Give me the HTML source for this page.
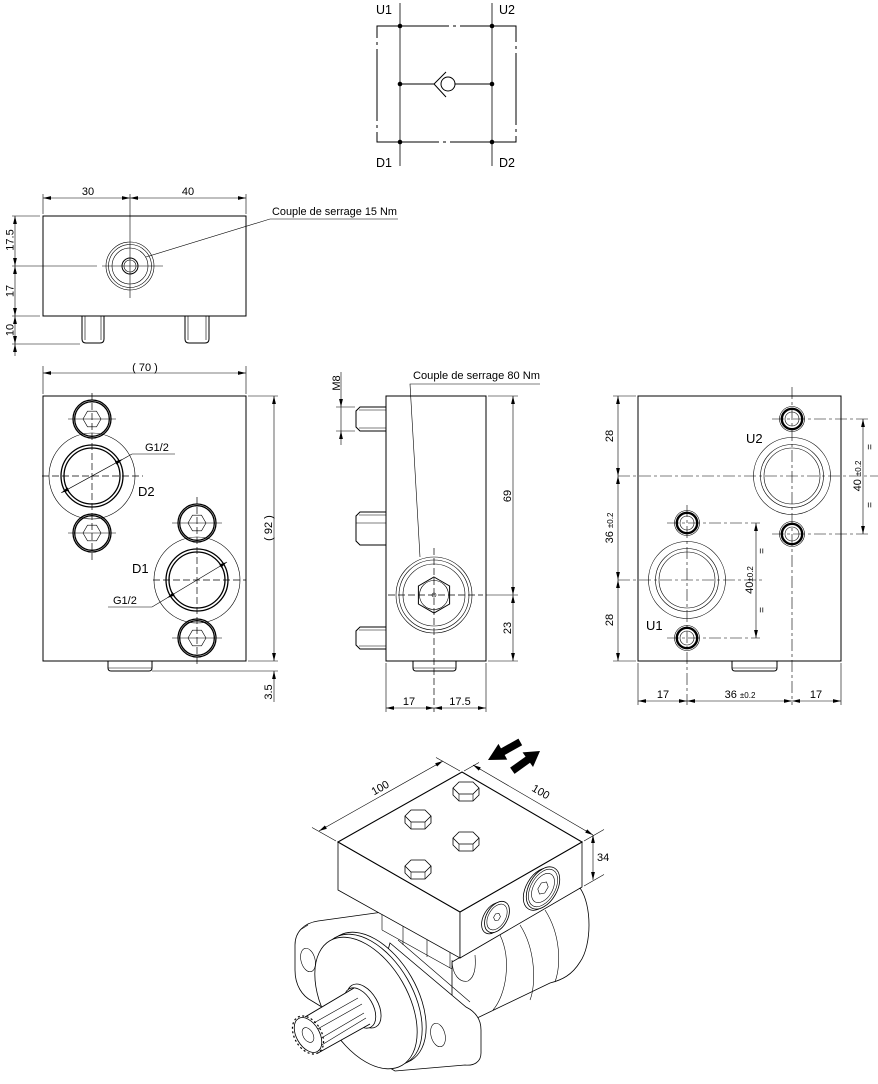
<!DOCTYPE html>
<html><head><meta charset="utf-8"><style>
html,body{margin:0;padding:0;background:#fff}
svg{display:block}
text{font-family:"Liberation Sans",sans-serif;font-size:11px;fill:#000}
.o{stroke:#000;stroke-width:1;fill:none}
.w{stroke:#000;stroke-width:0.8;fill:#fff}
.t{stroke:#000;stroke-width:0.6;fill:none}
.c{stroke:#000;stroke-width:0.6;fill:none;stroke-dasharray:12 3 3 3}
.c2{stroke:#000;stroke-width:0.7;fill:none;stroke-dasharray:7 3}
.d{stroke:#000;stroke-width:0.6;fill:none;marker-start:url(#a);marker-end:url(#a)}
.e{stroke:#000;stroke-width:0.6;fill:none;marker-end:url(#a)}
.k{stroke:#000;stroke-width:1.3;fill:none}
</style></head><body>
<svg width="878" height="1084" viewBox="0 0 878 1084" xmlns="http://www.w3.org/2000/svg">
<defs>
<marker id="a" viewBox="0 0 10 10" refX="10" refY="5" markerUnits="userSpaceOnUse" markerWidth="8" markerHeight="8" orient="auto-start-reverse"><path d="M0,2.6 L10,5 L0,7.4z" fill="#000"/></marker>
<g id="hb">
<path d="M-13,0 L-13,7 L-7,13 L7,13 L13,7 L13,0" class="w"/>
<path d="M-13,0 L-7,-6 L7,-6 L13,0 L7,6 L-7,6 Z" class="w"/>
<path d="M-7,6 L-7,13 M7,6 L7,13" class="t"/>
</g>
<g id="fb">
<circle r="19" class="k"/><circle r="17.3" class="k"/>
</g>
<g id="rb">
<circle r="12.5" class="t"/><circle r="10.2" fill="none" stroke="#000" stroke-width="2.4"/><circle r="7" class="t"/>
</g>
</defs>

<!-- ============ SCHEMATIC ============ -->
<line x1="400" y1="3" x2="400" y2="166" stroke="#999" stroke-width="2"/>
<line x1="492" y1="3" x2="492" y2="166" stroke="#999" stroke-width="2"/>
<rect x="377" y="26" width="139" height="116" fill="none" stroke="#000" stroke-width="1" stroke-dasharray="72 4 3 4"/>
<path d="M400,84 L434,84 M455,84 L492,84" class="o"/>
<circle cx="448" cy="84" r="7" class="o"/>
<path d="M446,72 L434,84 L446,97" class="o"/>
<g fill="#000">
<circle cx="400" cy="26" r="2.3"/><circle cx="492" cy="26" r="2.3"/>
<circle cx="400" cy="84" r="2.3"/><circle cx="492" cy="84" r="2.3"/>
<circle cx="400" cy="142" r="2.3"/><circle cx="492" cy="142" r="2.3"/>
</g>
<text x="376" y="14" style="font-size:12.5px">U1</text>
<text x="499" y="14" style="font-size:12.5px">U2</text>
<text x="376" y="167" style="font-size:12.5px">D1</text>
<text x="499" y="167" style="font-size:12.5px">D2</text>

<!-- ============ TOP VIEW ============ -->
<rect x="43" y="216" width="203" height="100" class="o"/>
<path d="M82,316 L82,339 Q82,343 86,343 L100,343 Q104,343 104,339 L104,316" class="o"/>
<path d="M85,316 L85,340 M101,316 L101,340" class="t"/>
<path d="M185,316 L185,339 Q185,343 189,343 L205,343 Q209,343 209,339 L209,316" class="o"/>
<path d="M188,316 L188,340 M206,316 L206,340" class="t"/>
<path d="M43,194 L43,214 M246,194 L246,214 M130,194 L130,298" class="t"/>
<line x1="43" y1="198" x2="130" y2="198" class="d"/>
<line x1="130" y1="198" x2="246" y2="198" class="d"/>
<text x="88" y="195" text-anchor="middle">30</text>
<text x="188" y="195" text-anchor="middle">40</text>
<circle cx="130" cy="266" r="24" class="t"/>
<circle cx="130" cy="266" r="21.5" class="t"/>
<circle cx="130" cy="266" r="18" class="t"/>
<circle cx="130" cy="266" r="8" class="o"/>
<circle cx="130" cy="266" r="6" class="t"/>
<path d="M12,266 L97,266 M102,266 L163,266" class="t"/>
<path d="M146,257 L270,219 L398,219" class="t"/>
<text x="272" y="215" textLength="125" lengthAdjust="spacingAndGlyphs">Couple de serrage 15 Nm</text>
<path d="M12,216 L40,216 M12,316 L40,316 M12,344 L80,344" class="t"/>
<line x1="15" y1="216" x2="15" y2="266" class="d"/>
<line x1="15" y1="266" x2="15" y2="316" class="d"/>
<line x1="15" y1="316" x2="15" y2="344" class="d"/>
<line x1="15" y1="356" x2="15" y2="344" class="e"/>
<text transform="translate(13.5,240) rotate(-90)" text-anchor="middle">17.5</text>
<text transform="translate(13.5,291) rotate(-90)" text-anchor="middle">17</text>
<text transform="translate(13.5,330) rotate(-90)" text-anchor="middle">10</text>

<!-- ============ FRONT VIEW ============ -->
<rect x="43" y="396" width="203" height="265" class="o"/>
<path d="M43,366 L43,394 M246,366 L246,394" class="t"/>
<line x1="43" y1="373" x2="246" y2="373" class="d"/>
<text x="145" y="371" text-anchor="middle">( 70 )</text>
<path d="M248,396 L278,396 M248,661 L278,661 M152,671 L278,671" class="t"/>
<line x1="274" y1="396" x2="274" y2="661" class="d"/>
<line x1="274" y1="702" x2="274" y2="671" class="e"/>
<text transform="translate(272,528) rotate(-90)" text-anchor="middle">( 92 )</text>
<text transform="translate(272,692) rotate(-90)" text-anchor="middle">3.5</text>
<path d="M108,661 L108,668 Q108,671 111,671 L149,671 Q152,671 152,668 L152,661" class="o"/>
<path d="M108,668 L152,668" class="t"/>
<!-- D2 -->
<circle cx="92" cy="476" r="43" class="t"/>
<circle cx="92" cy="476" r="31" class="k"/>
<circle cx="92" cy="476" r="28" class="k"/>
<use href="#fb" x="92" y="419"/>
<use href="#fb" x="92" y="533"/>
<path d="M83,419 L87.5,411.2 L96.5,411.2 L101,419 L96.5,426.8 L87.5,426.8 Z" class="t"/>
<path d="M83,533 L87.5,525.2 L96.5,525.2 L101,533 L96.5,540.8 L87.5,540.8 Z" class="t"/>
<path d="M92,393 L92,560" class="c2"/>
<path d="M68,419 L116,419 M68,533 L116,533" class="t"/>
<path d="M42,476 L143,476" class="c2"/>
<line x1="61.3" y1="492.8" x2="122.7" y2="459.2" class="d"/>
<path d="M122.7,459.2 L132,454 L175,454" class="t"/>
<text x="145" y="451">G1/2</text>
<text x="138" y="496" style="font-size:13px">D2</text>
<!-- D1 -->
<circle cx="197" cy="580" r="43" class="t"/>
<circle cx="197" cy="580" r="31" class="k"/>
<circle cx="197" cy="580" r="28" class="k"/>
<use href="#fb" x="197" y="523"/>
<use href="#fb" x="197" y="638"/>
<path d="M188,523 L192.5,515.2 L201.5,515.2 L206,523 L201.5,530.8 L192.5,530.8 Z" class="t"/>
<path d="M188,638 L192.5,630.2 L201.5,630.2 L206,638 L201.5,645.8 L192.5,645.8 Z" class="t"/>
<path d="M197,497 L197,665" class="c2"/>
<path d="M172,523 L222,523 M172,638 L222,638" class="t"/>
<path d="M153,580 L246,580" class="c2"/>
<line x1="167" y1="598" x2="227" y2="562" class="d"/>
<path d="M167,598 L152,607 L108,607" class="t"/>
<text x="113" y="604">G1/2</text>
<text x="132" y="573" style="font-size:13px">D1</text>

<!-- ============ MIDDLE VIEW ============ -->
<rect x="386" y="396" width="100" height="265" class="o"/>
<path d="M386,407 L360,407 L356,411 L356,427 L360,431 L386,431" class="o"/>
<path d="M359,410 L386,410 M359,428 L386,428" class="t"/>
<path d="M386,512 L360,512 L356,516 L356,541 L360,545 L386,545" class="o"/>
<path d="M356,523 L386,523 M359,515 L386,515" class="t"/>
<path d="M386,627 L360,627 L356,631 L356,645 L360,649 L386,649" class="o"/>
<path d="M359,630 L386,630 M359,646 L386,646" class="t"/>
<path d="M336,407 L355,407 M336,431 L355,431" class="t"/>
<line x1="341" y1="372" x2="341" y2="407" class="e"/>
<line x1="341" y1="445" x2="341" y2="431" class="e"/>
<line x1="341" y1="407" x2="341" y2="431" class="t"/>
<text transform="translate(340,383) rotate(-90)" text-anchor="middle">M8</text>
<path d="M420,557 L410,384 L540,384" class="t"/>
<text x="413" y="379" textLength="127" lengthAdjust="spacingAndGlyphs">Couple de serrage 80 Nm</text>
<circle cx="434" cy="595" r="38" class="t"/>
<circle cx="434" cy="595" r="35" class="t"/>
<circle cx="434" cy="595" r="31" class="t"/>
<path d="M434,577 L449.6,586 L449.6,604 L434,613 L418.4,604 L418.4,586 Z" class="o"/>
<circle cx="434" cy="595" r="14.5" class="t"/>
<circle cx="434" cy="595" r="2" class="t"/>
<path d="M434,548 L434,712 M388,595 L483,595" class="c2"/>
<path d="M488,396 L518,396 M486,595 L518,595 M488,661 L518,661" class="t"/>
<line x1="513" y1="396" x2="513" y2="595" class="d"/>
<line x1="513" y1="595" x2="513" y2="661" class="d"/>
<text transform="translate(511,496) rotate(-90)" text-anchor="middle">69</text>
<text transform="translate(511,628) rotate(-90)" text-anchor="middle">23</text>
<path d="M413,661 L413,668 Q413,671 416,671 L453,671 Q456,671 456,668 L456,661" class="o"/>
<path d="M413,668 L456,668" class="t"/>
<path d="M386,663 L386,712 M486,663 L486,712" class="t"/>
<line x1="386" y1="708" x2="434" y2="708" class="d"/>
<line x1="434" y1="708" x2="486" y2="708" class="d"/>
<text x="409" y="705" text-anchor="middle">17</text>
<text x="460" y="705" text-anchor="middle">17.5</text>

<!-- ============ RIGHT VIEW ============ -->
<rect x="638" y="396" width="203" height="265" class="o"/>
<path d="M732,661 L732,668 Q732,671 735,671 L774,671 Q777,671 777,668 L777,661" class="o"/>
<path d="M732,668 L777,668" class="t"/>
<!-- U2 -->
<circle cx="792" cy="476" r="38.5" class="t"/>
<circle cx="792" cy="476" r="31.5" class="t"/>
<circle cx="792" cy="476" r="28" class="t"/>
<use href="#rb" x="792" y="419"/>
<use href="#rb" x="792" y="534"/>
<path d="M792,387 L792,705" class="c"/>
<path d="M772,419 L868,419 M772,534 L868,534" class="c"/>
<path d="M618,476 L878,476" class="c"/>
<!-- U1 -->
<circle cx="687" cy="580" r="38.5" class="t"/>
<circle cx="687" cy="580" r="31.5" class="t"/>
<circle cx="687" cy="580" r="28" class="t"/>
<use href="#rb" x="687" y="523"/>
<use href="#rb" x="687" y="638"/>
<path d="M687,505 L687,705" class="c"/>
<path d="M667,523 L760,523 M667,638 L760,638" class="c"/>
<path d="M618,580 L765,580" class="c"/>
<text x="746" y="443" style="font-size:13px">U2</text>
<text x="646" y="630" style="font-size:13px">U1</text>
<path d="M613,396 L636,396 M613,661 L636,661" class="t"/>
<line x1="618" y1="396" x2="618" y2="476" class="d"/>
<line x1="618" y1="476" x2="618" y2="580" class="d"/>
<line x1="618" y1="580" x2="618" y2="661" class="d"/>
<text transform="translate(613,436) rotate(-90)" text-anchor="middle">28</text>
<text transform="translate(613,528) rotate(-90)" text-anchor="middle">36 <tspan style="font-size:8px">±0.2</tspan></text>
<text transform="translate(613,620) rotate(-90)" text-anchor="middle">28</text>
<line x1="863" y1="419" x2="863" y2="534" class="d"/>
<text transform="translate(861,476) rotate(-90)" text-anchor="middle">40 <tspan style="font-size:8px">±0.2</tspan></text>
<text transform="translate(873,447) rotate(-90)" text-anchor="middle" style="font-size:10px">=</text>
<text transform="translate(873,505) rotate(-90)" text-anchor="middle" style="font-size:10px">=</text>
<line x1="756" y1="523" x2="756" y2="638" class="d"/>
<text transform="translate(753,580) rotate(-90)" text-anchor="middle">40<tspan style="font-size:8px">±0.2</tspan></text>
<text transform="translate(765,551) rotate(-90)" text-anchor="middle" style="font-size:10px">=</text>
<text transform="translate(765,610) rotate(-90)" text-anchor="middle" style="font-size:10px">=</text>
<path d="M638,663 L638,705 M841,663 L841,705" class="t"/>
<line x1="638" y1="701" x2="687" y2="701" class="d"/>
<line x1="687" y1="701" x2="792" y2="701" class="d"/>
<line x1="792" y1="701" x2="841" y2="701" class="d"/>
<text x="663" y="698" text-anchor="middle">17</text>
<text x="740" y="698" text-anchor="middle">36 <tspan style="font-size:8px">±0.2</tspan></text>
<text x="816" y="698" text-anchor="middle">17</text>

<!-- ============ ISOMETRIC ============ -->
<!-- motor body (cylinder, back) -->
<path d="M452,962 L580,888 C592,905 592,945 580,962 C572,975 562,980 550,983 L473,1020 L452,1012 Z" class="w"/>
<path d="M500,935 C512,960 506,995 493,1010" class="t"/>
<path d="M520,925 C536,950 536,985 530,1000" class="t"/>
<path d="M545,910 C561,935 561,965 555,982" class="t"/>
<path d="M440,1007 L473,1020 M450,1013 L473,1022 L473,1060" class="t"/>
<!-- housing under block -->
<path d="M382,913 L382,930 M403,924 L403,945 M427,938 L427,957 M450,951 L450,968 M382,930 L452,969" class="t"/>
<path d="M452,960 C452,975 460,983 468,981 C475,977 476,967 475,955" class="t"/>
<!-- flange -->
<path d="M383,912 L318,921 C304,923 295,932 295,945 L295,970 C295,985 302,996 312,1001 L330,1012" class="w"/>
<path d="M300,930 L308,925" class="t"/>
<path d="M390,943 L466,1007 C476,1012 481,1020 481,1030 L481,1053 C481,1062 474,1066 465,1065 L395,1071 L360,1050 Z" class="w"/>
<path d="M398,940 L470,1002" class="t"/>
<ellipse cx="308" cy="960" rx="7" ry="12" transform="rotate(-15 308 960)" class="t"/>
<ellipse cx="438" cy="1035" rx="7" ry="12" transform="rotate(-15 438 1035)" class="t"/>
<!-- pilot disc -->
<ellipse cx="375" cy="998" rx="42" ry="72" transform="rotate(-30 375 998)" class="w"/>
<ellipse cx="371" cy="1000" rx="42" ry="72" transform="rotate(-30 371 1000)" class="w"/>
<ellipse cx="366" cy="1003" rx="42" ry="72" transform="rotate(-30 366 1003)" class="w"/>
<!-- shaft -->
<ellipse cx="364" cy="1006" rx="14" ry="24" transform="rotate(-30 364 1006)" class="w"/>
<ellipse cx="360" cy="1008" rx="13" ry="22" transform="rotate(-30 360 1008)" class="w"/>
<path d="M305,1017 L354,988 L370,1024 L318,1053 Z" fill="#fff" stroke="none"/>
<path d="M305,1017 L354,988 M318,1053 L370,1024" class="o"/>
<path d="M312,1024 L358,998 M314,1031 L362,1004 M318,1040 L364,1013 M320,1046 L366,1018" class="t"/>
<ellipse cx="308" cy="1035" rx="13.5" ry="20.5" transform="rotate(-30 308 1035)" fill="none" stroke="#000" stroke-width="1.2" stroke-dasharray="2 2.5"/>
<ellipse cx="308" cy="1035" rx="11.5" ry="19" transform="rotate(-30 308 1035)" class="w"/>
<ellipse cx="308" cy="1035" rx="5" ry="8" transform="rotate(-30 308 1035)" class="t"/>
<!-- block -->
<path d="M338,842 L460,912 L460,958 L338,890 Z" class="w"/>
<path d="M460,912 L582,842 L582,887 L460,958 Z" class="w"/>
<path d="M338,842 L462,772 L582,842 L460,912 Z" fill="#fff" stroke="#000" stroke-width="1.1"/>
<use href="#hb" x="466" y="788"/>
<use href="#hb" x="418" y="816"/>
<use href="#hb" x="466" y="838"/>
<use href="#hb" x="418" y="866"/>
<!-- ports on block side -->
<g transform="translate(543,888) rotate(30)">
<ellipse cx="-2" cy="2.5" rx="14" ry="23" class="w"/>
<ellipse rx="14" ry="23" class="w"/>
<ellipse rx="12" ry="20.5" class="t"/>
<ellipse rx="9.5" ry="16" class="t"/>
<path d="M0,-7 L4,-3.5 L4,3.5 L0,7 L-4,3.5 L-4,-3.5 Z" class="t"/>
</g>
<g transform="translate(497,917) rotate(30)">
<ellipse cx="-2" cy="2.5" rx="10.5" ry="17" class="w"/>
<ellipse rx="10.5" ry="17" class="w"/>
<ellipse rx="8.5" ry="14" class="t"/>
<path d="M0,-4 L2.8,-2 L2.8,2 L0,4 L-2.8,2 L-2.8,-2 Z" class="t"/>
</g>
<!-- iso dimensions -->
<path d="M336,841 L312,827.5 M460,771 L436,757.5 M464,771 L479,762.5 M584,841 L604,829.5 M584,886 L604,874.5" class="t"/>
<line x1="319" y1="831" x2="443" y2="761" class="d"/>
<line x1="473" y1="765" x2="593" y2="835" class="d"/>
<line x1="593" y1="835" x2="593" y2="880" class="d"/>
<text transform="translate(382,791) rotate(-29.5)" text-anchor="middle">100</text>
<text transform="translate(539,795) rotate(30)" text-anchor="middle">100</text>
<text x="597" y="861">34</text>
<!-- flow arrows -->
<polygon points="-37,-3.8 -17,-3.8 -17,-9 0,0 -17,9 -17,3.8 -37,3.8" transform="translate(488,760) rotate(150.8)" fill="#000"/>
<polygon points="-34,-3.8 -15,-3.8 -15,-9 0,0 -15,9 -15,3.8 -34,3.8" transform="translate(540,751) rotate(-35.5)" fill="#000"/>
</svg>
</body></html>
